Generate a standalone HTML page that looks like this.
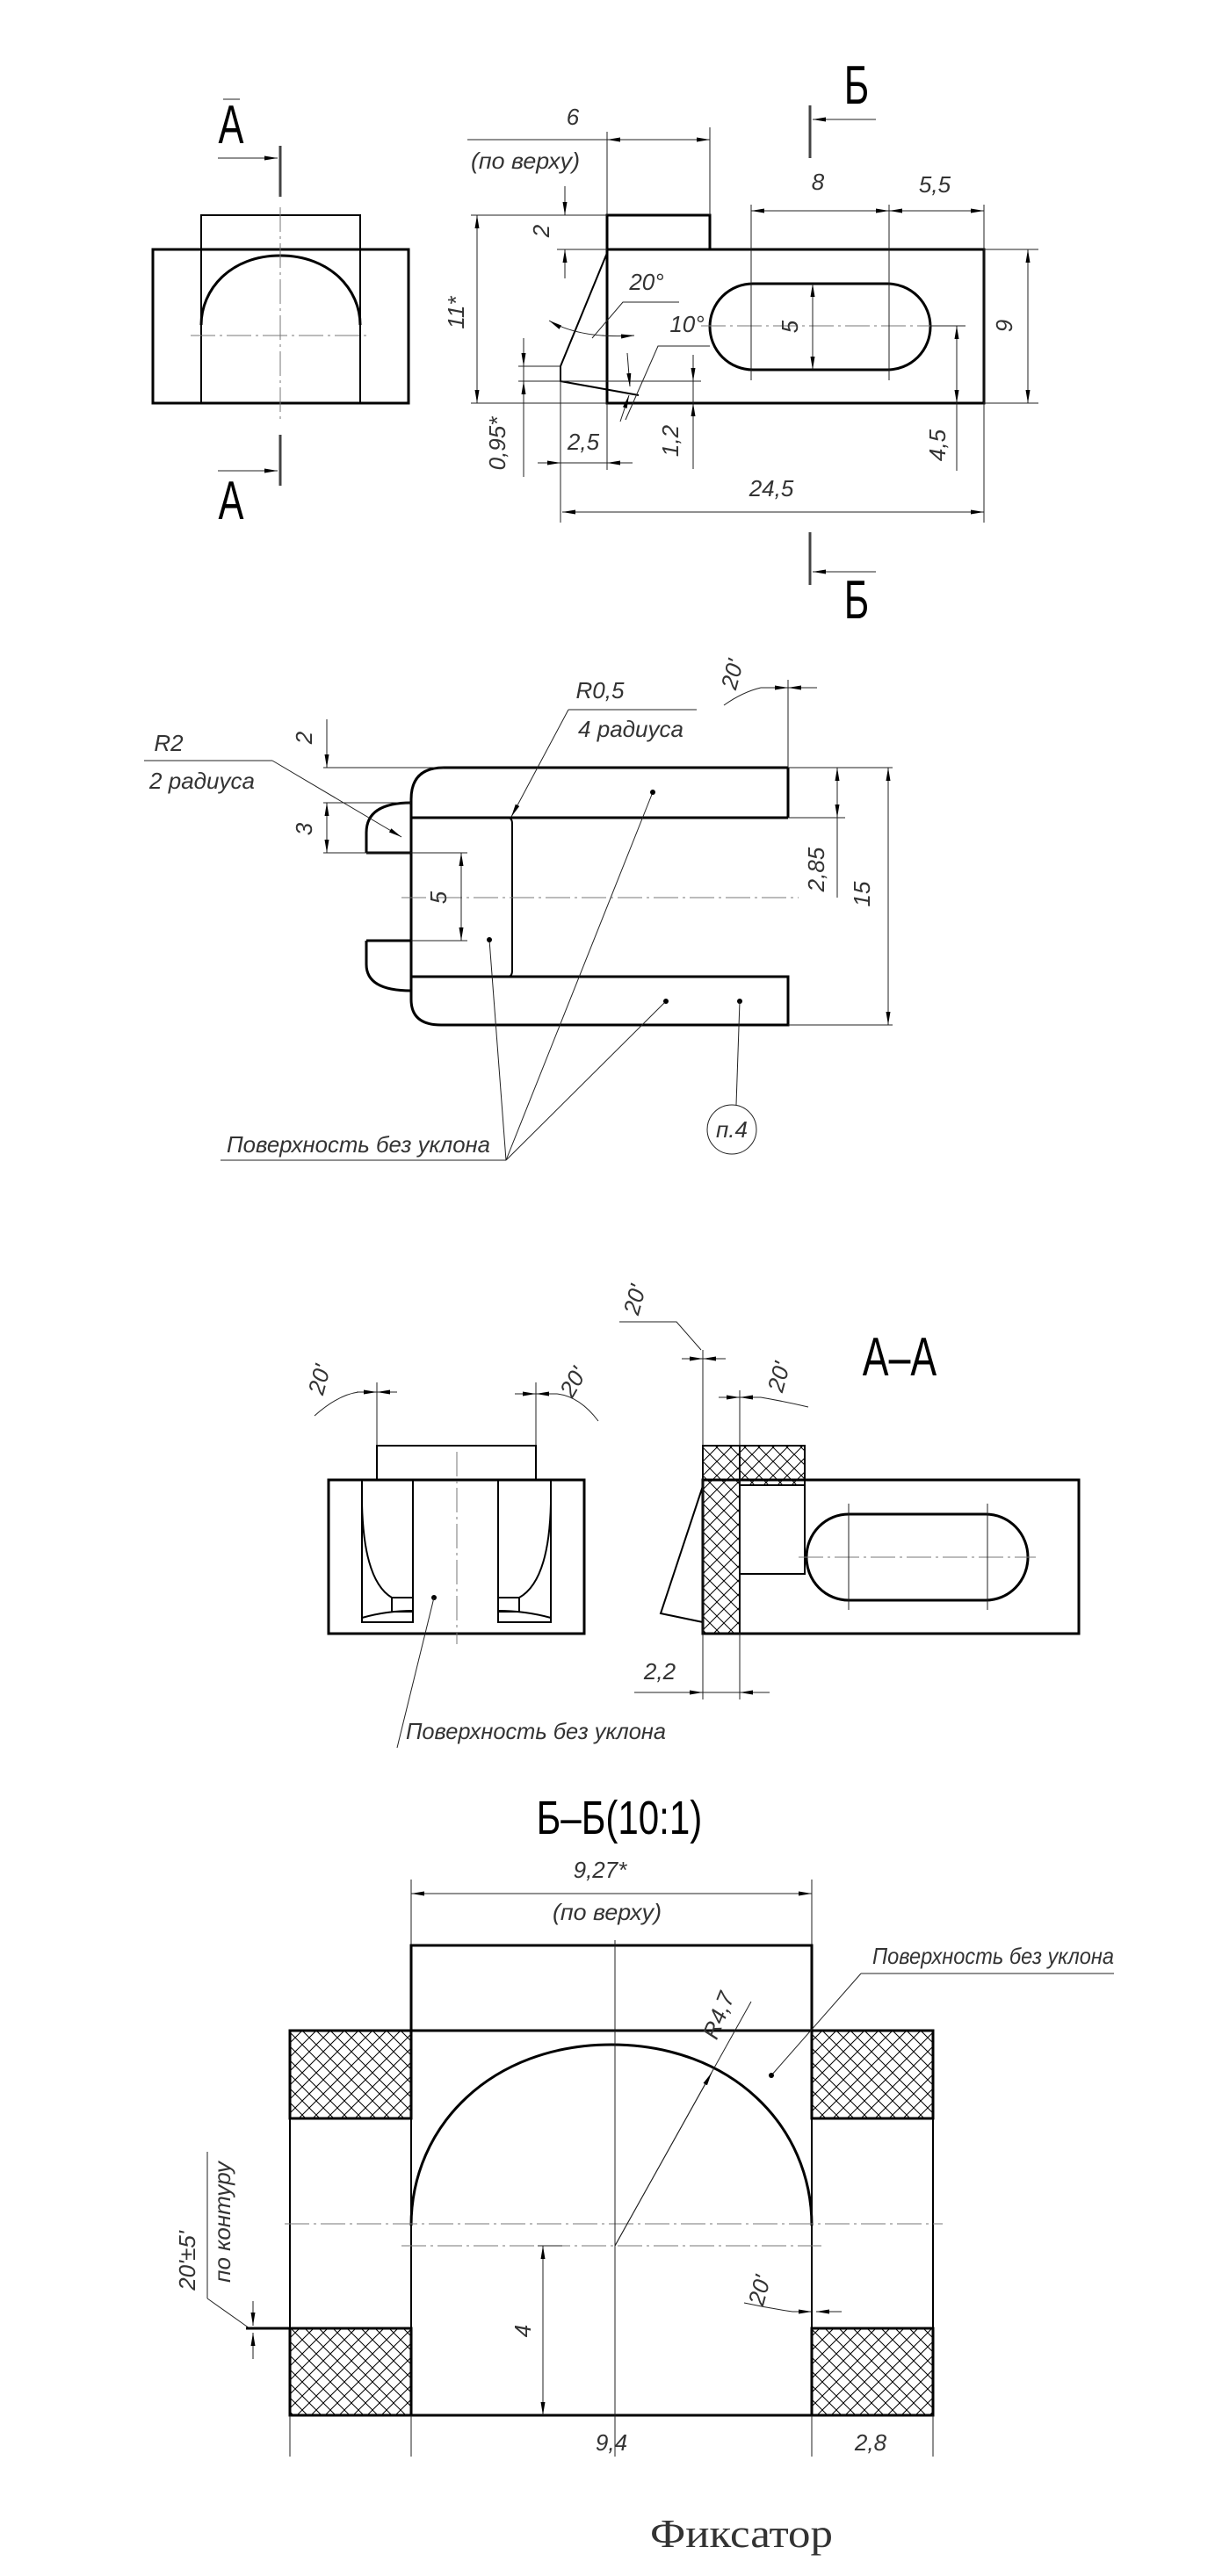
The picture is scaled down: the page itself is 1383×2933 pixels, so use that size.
<!DOCTYPE html>
<html><head><meta charset="utf-8">
<style>
html,body{margin:0;padding:0;background:#fff;}
svg{display:block;}
.k{stroke:#000;stroke-width:3;fill:none;}
.m{stroke:#000;stroke-width:2;fill:none;}
.t{stroke:#222;stroke-width:1;fill:none;}
.c{stroke:#777;stroke-width:1;fill:none;stroke-dasharray:28,5,3,5;}
.s{stroke:#444;stroke-width:3;fill:none;}
text{font-family:"Liberation Sans Narrow","Liberation Sans","DejaVu Sans",sans-serif;fill:#333;font-style:italic;}
.d{font-size:26px;}
.b{font-style:normal;fill:#000;}
</style></head><body>
<svg width="1383" height="2933" viewBox="0 0 1383 2933" xmlns="http://www.w3.org/2000/svg">
<defs>
<marker id="a" markerWidth="16" markerHeight="8" refX="15" refY="4" orient="auto-start-reverse" markerUnits="userSpaceOnUse"><path d="M0,1.5 L15,4 L0,6.5z" fill="#000"/></marker>
<pattern id="h" width="16" height="16" patternUnits="userSpaceOnUse"><path d="M0,0L16,16M16,0L0,16" stroke="#000" stroke-width="1"/></pattern>
</defs>

<!-- ===== VIEW 1 ===== -->
<rect class="k" x="174" y="284" width="291" height="175"/>
<polyline class="m" points="229,284 229,245 410,245 410,284"/>
<line class="m" x1="229" y1="284" x2="229" y2="459"/><line class="m" x1="410" y1="284" x2="410" y2="459"/>
<path class="k" d="M229,370 C229,330 262,291 319,291 C376,291 410,330 410,370"/>
<line class="c" x1="319" y1="236" x2="319" y2="481"/>
<line class="c" x1="217" y1="382" x2="421" y2="382"/>
<line class="s" x1="319" y1="166" x2="319" y2="224"/>
<line class="t" x1="248" y1="180" x2="316" y2="180" marker-end="url(#a)"/>
<line class="s" x1="319" y1="495" x2="319" y2="553"/>
<line class="t" x1="248" y1="536" x2="316" y2="536" marker-end="url(#a)"/>
<line class="t" x1="254" y1="113" x2="273" y2="113"/>
<text class="b" x="263" y="163" font-size="62" text-anchor="middle" transform="translate(263 0) scale(0.7 1) translate(-263 0)">А</text>
<text class="b" x="263" y="591" font-size="62" text-anchor="middle" transform="translate(263 0) scale(0.7 1) translate(-263 0)">А</text>

<!-- ===== VIEW 2 ===== -->
<rect class="k" x="691" y="284" width="429" height="175"/>
<polyline class="k" points="691,284 691,245 808,245 808,284"/>
<polyline class="m" points="691,288 638,417 638,434 727,450"/>
<rect class="k" x="808" y="323" width="251" height="98" rx="49" ry="49"/>
<line class="c" x1="798" y1="371" x2="1099" y2="371"/>
<line class="t" x1="855" y1="233" x2="855" y2="433"/>
<line class="t" x1="1012" y1="233" x2="1012" y2="433"/>
<line class="t" x1="1120" y1="233" x2="1120" y2="595"/>
<line class="t" x1="638" y1="434" x2="638" y2="595"/>
<line class="t" x1="691" y1="150" x2="691" y2="245"/>
<line class="t" x1="691" y1="459" x2="691" y2="535"/>
<line class="t" x1="808" y1="145" x2="808" y2="245"/>
<line class="t" x1="536" y1="245" x2="691" y2="245"/>
<line class="t" x1="634" y1="284" x2="691" y2="284"/>
<line class="t" x1="536" y1="459" x2="691" y2="459"/>
<line class="t" x1="590" y1="417" x2="638" y2="417"/>
<line class="t" x1="590" y1="434" x2="798" y2="434"/>
<!-- dims -->
<line class="t" x1="855" y1="240" x2="1012" y2="240" marker-start="url(#a)" marker-end="url(#a)"/>
<line class="t" x1="1012" y1="240" x2="1120" y2="240" marker-start="url(#a)" marker-end="url(#a)"/>
<text class="d" x="931" y="216" text-anchor="middle">8</text>
<text class="d" x="1064" y="219" text-anchor="middle">5,5</text>
<line class="t" x1="532" y1="159" x2="691" y2="159"/>
<line class="t" x1="691" y1="159" x2="808" y2="159" marker-start="url(#a)" marker-end="url(#a)"/>
<text class="d" x="652" y="142" text-anchor="middle">6</text>
<text class="d" x="598" y="192" text-anchor="middle" textLength="124" lengthAdjust="spacingAndGlyphs">(по верху)</text>
<line class="t" x1="643" y1="212" x2="643" y2="245" marker-end="url(#a)"/>
<line class="t" x1="643" y1="317" x2="643" y2="284" marker-end="url(#a)"/>
<text class="d" x="625" y="263" text-anchor="middle" transform="rotate(-90 625 263)">2</text>
<line class="t" x1="543" y1="245" x2="543" y2="459" marker-start="url(#a)" marker-end="url(#a)"/>
<text class="d" x="528" y="356" text-anchor="middle" transform="rotate(-90 528 356)">11*</text>
<line class="t" x1="1120" y1="284" x2="1182" y2="284"/><line class="t" x1="1120" y1="459" x2="1182" y2="459"/>
<line class="t" x1="1170" y1="284" x2="1170" y2="459" marker-start="url(#a)" marker-end="url(#a)"/>
<text class="d" x="1152" y="371" text-anchor="middle" transform="rotate(-90 1152 371)">9</text>
<line class="t" x1="925" y1="323" x2="925" y2="421" marker-start="url(#a)" marker-end="url(#a)"/>
<text class="d" x="908" y="372" text-anchor="middle" transform="rotate(-90 908 372)">5</text>
<line class="t" x1="1059" y1="371" x2="1099" y2="371"/>
<line class="t" x1="1089" y1="371" x2="1089" y2="536"/>
<line class="t" x1="1089" y1="415" x2="1089" y2="371" marker-end="url(#a)"/>
<line class="t" x1="1089" y1="415" x2="1089" y2="459" marker-end="url(#a)"/>
<text class="d" x="1076" y="507" text-anchor="middle" transform="rotate(-90 1076 507)">4,5</text>
<line class="t" x1="640" y1="583" x2="1120" y2="583" marker-start="url(#a)" marker-end="url(#a)"/>
<text class="d" x="878" y="565" text-anchor="middle">24,5</text>
<line class="t" x1="612" y1="527" x2="720" y2="527"/>
<line class="t" x1="612" y1="527" x2="638" y2="527" marker-end="url(#a)"/>
<line class="t" x1="720" y1="527" x2="691" y2="527" marker-end="url(#a)"/>
<text class="d" x="664" y="512" text-anchor="middle">2,5</text>
<line class="t" x1="596" y1="385" x2="596" y2="543"/>
<line class="t" x1="596" y1="385" x2="596" y2="417" marker-end="url(#a)"/>
<line class="t" x1="596" y1="467" x2="596" y2="434" marker-end="url(#a)"/>
<text class="d" x="575" y="505" text-anchor="middle" transform="rotate(-90 575 505)">0,95*</text>
<line class="t" x1="789" y1="404" x2="789" y2="534"/>
<line class="t" x1="789" y1="404" x2="789" y2="434" marker-end="url(#a)"/>
<line class="t" x1="789" y1="492" x2="789" y2="459" marker-end="url(#a)"/>
<text class="d" x="772" y="502" text-anchor="middle" transform="rotate(-90 772 502)">1,2</text>
<!-- angles -->
<polyline class="t" points="773,344 709,344 674,385"/>
<path class="t" d="M625,365 Q660,386 722,382" marker-start="url(#a)" marker-end="url(#a)"/>
<text class="d" x="736" y="330" text-anchor="middle">20°</text>
<polyline class="t" points="808,394 749,394 712,478"/>
<line class="t" x1="714" y1="402" x2="717" y2="440" marker-end="url(#a)"/>
<line class="t" x1="706" y1="480" x2="716" y2="450" marker-end="url(#a)"/>
<text class="d" x="782" y="378" text-anchor="middle">10°</text>
<!-- Б marks -->
<line class="s" x1="922" y1="120" x2="922" y2="180"/>
<line class="t" x1="997" y1="136" x2="925" y2="136" marker-end="url(#a)"/>
<line class="s" x1="922" y1="606" x2="922" y2="666"/>
<line class="t" x1="997" y1="651" x2="925" y2="651" marker-end="url(#a)"/>
<text class="b" x="975" y="118" font-size="62" text-anchor="middle" transform="translate(975 0) scale(0.7 1) translate(-975 0)">Б</text>
<text class="b" x="975" y="704" font-size="62" text-anchor="middle" transform="translate(975 0) scale(0.7 1) translate(-975 0)">Б</text>

<!-- ===== VIEW 3 ===== -->
<path class="k" d="M897,874 L505,874 Q468,874 468,910 L468,1138 Q468,1167 502,1167 L897,1167 L897,1112 L468,1112"/>
<line class="k" x1="897" y1="874" x2="897" y2="931"/>
<line class="k" x1="468" y1="931" x2="897" y2="931"/>
<line class="t" x1="897" y1="931" x2="962" y2="931"/>
<path class="m" d="M475,931 L578,931 Q583,931 583,938 L583,1105 Q583,1112 578,1112"/>
<path class="k" d="M417,971 L417,948 Q417,914 468,914"/>
<line class="k" x1="417" y1="971" x2="468" y2="971"/>
<line class="k" x1="417" y1="1071" x2="468" y2="1071"/>
<path class="k" d="M417,1071 L417,1098 Q417,1128 468,1128"/>
<line class="t" x1="368" y1="914" x2="468" y2="914"/>
<line class="t" x1="368" y1="971" x2="532" y2="971"/>
<line class="t" x1="468" y1="1071" x2="532" y2="1071"/>
<line class="t" x1="368" y1="874" x2="505" y2="874"/>
<line class="c" x1="457" y1="1022" x2="909" y2="1022"/>
<line class="t" x1="372" y1="819" x2="372" y2="874" marker-end="url(#a)"/>
<line class="t" x1="372" y1="942" x2="372" y2="914" marker-end="url(#a)"/>
<line class="t" x1="372" y1="942" x2="372" y2="971" marker-end="url(#a)"/>
<text class="d" x="355" y="840" text-anchor="middle" transform="rotate(-90 355 840)">2</text>
<text class="d" x="355" y="944" text-anchor="middle" transform="rotate(-90 355 944)">3</text>
<line class="t" x1="525" y1="971" x2="525" y2="1071" marker-start="url(#a)" marker-end="url(#a)"/>
<text class="d" x="508" y="1022" text-anchor="middle" transform="rotate(-90 508 1022)">5</text>
<line class="t" x1="953" y1="874" x2="953" y2="1022"/>
<line class="t" x1="953" y1="902" x2="953" y2="874" marker-end="url(#a)"/>
<line class="t" x1="953" y1="902" x2="953" y2="931" marker-end="url(#a)"/>
<text class="d" x="938" y="990" text-anchor="middle" transform="rotate(-90 938 990)">2,85</text>
<line class="t" x1="897" y1="874" x2="1016" y2="874"/><line class="t" x1="897" y1="1167" x2="1016" y2="1167"/>
<line class="t" x1="1011" y1="874" x2="1011" y2="1167" marker-start="url(#a)" marker-end="url(#a)"/>
<text class="d" x="990" y="1018" text-anchor="middle" transform="rotate(-90 990 1018)">15</text>
<line class="t" x1="897" y1="774" x2="897" y2="874"/>
<line class="t" x1="866" y1="783" x2="897" y2="783" marker-end="url(#a)"/>
<line class="t" x1="930" y1="783" x2="897" y2="783" marker-end="url(#a)"/>
<path class="t" d="M824,803 Q845,788 866,783"/>
<text class="d" x="842" y="770" text-anchor="middle" transform="rotate(-75 842 770)">20'</text>
<line class="t" x1="647" y1="808" x2="793" y2="808"/>
<text class="d" x="683" y="795" text-anchor="middle">R0,5</text>
<text class="d" x="718" y="839" text-anchor="middle">4 радиуса</text>
<line class="t" x1="647" y1="808" x2="582" y2="930" marker-end="url(#a)"/>
<line class="t" x1="164" y1="866" x2="310" y2="866"/>
<text class="d" x="192" y="855" text-anchor="middle">R2</text>
<text class="d" x="230" y="898" text-anchor="middle">2 радиуса</text>
<line class="t" x1="310" y1="866" x2="457" y2="953" marker-end="url(#a)"/>
<line class="t" x1="251" y1="1321" x2="576" y2="1321"/>
<text class="d" x="408" y="1312" text-anchor="middle" textLength="300" lengthAdjust="spacingAndGlyphs">Поверхность без уклона</text>
<line class="t" x1="576" y1="1321" x2="557" y2="1070"/>
<line class="t" x1="576" y1="1321" x2="743" y2="902"/>
<line class="t" x1="576" y1="1321" x2="758" y2="1140"/>
<circle cx="557" cy="1070" r="3"/><circle cx="743" cy="902" r="3"/><circle cx="758" cy="1140" r="3"/><circle cx="842" cy="1140" r="3"/>
<line class="t" x1="842" y1="1140" x2="838" y2="1258"/>
<circle class="t" cx="833" cy="1286" r="28"/>
<text class="d" x="833" y="1295" text-anchor="middle" font-size="22">п.4</text>

<!-- ===== VIEW 4 left ===== -->
<rect class="k" x="374" y="1685" width="291" height="175"/>
<rect class="m" x="429" y="1646" width="181" height="39"/>
<line class="c" x1="520" y1="1653" x2="520" y2="1872"/>
<rect class="m" x="412" y="1685" width="58" height="162"/>
<rect class="m" x="567" y="1685" width="60" height="162"/>
<path class="m" d="M412,1712 Q414,1800 446,1819 L446,1835 L470,1835 L470,1819 L446,1819"/>
<path class="m" d="M412,1842 Q440,1834 470,1834"/>
<path class="m" d="M627,1712 Q625,1800 591,1819 L591,1835 L567,1835 L567,1819 L591,1819"/>
<path class="m" d="M627,1842 Q598,1834 567,1834"/>
<line class="t" x1="429" y1="1574" x2="429" y2="1646"/>
<line class="t" x1="610" y1="1574" x2="610" y2="1646"/>
<path class="t" d="M358,1612 Q385,1588 408,1585"/>
<line class="t" x1="406" y1="1585" x2="429" y2="1585" marker-end="url(#a)"/>
<line class="t" x1="452" y1="1585" x2="429" y2="1585" marker-end="url(#a)"/>
<path class="t" d="M681,1618 Q660,1590 634,1587"/>
<line class="t" x1="586" y1="1587" x2="610" y2="1587" marker-end="url(#a)"/>
<line class="t" x1="634" y1="1587" x2="610" y2="1587" marker-end="url(#a)"/>
<text class="d" x="372" y="1573" text-anchor="middle" transform="rotate(-75 372 1573)">20'</text>
<text class="d" x="660" y="1578" text-anchor="middle" transform="rotate(-60 660 1578)">20'</text>
<circle cx="494" cy="1819" r="3"/>
<line class="t" x1="494" y1="1819" x2="452" y2="1990"/>
<text class="d" x="610" y="1980" text-anchor="middle" textLength="296" lengthAdjust="spacingAndGlyphs">Поверхность без уклона</text>

<!-- ===== A-A ===== -->
<rect class="k" x="800" y="1685" width="428" height="175"/>
<rect x="800" y="1646" width="42" height="214" fill="url(#h)" stroke="#000" stroke-width="2"/>
<rect x="842" y="1646" width="74" height="45" fill="url(#h)" stroke="#000" stroke-width="2"/>
<rect class="m" x="842" y="1691" width="74" height="101"/>
<rect class="k" x="918" y="1724" width="252" height="98" rx="48" ry="49"/>
<line class="c" x1="909" y1="1773" x2="1179" y2="1773"/>
<line class="t" x1="966" y1="1712" x2="966" y2="1833"/>
<line class="t" x1="1124" y1="1712" x2="1124" y2="1833"/>
<polyline class="m" points="800,1692 752,1837 800,1847"/>
<line class="t" x1="800" y1="1537" x2="800" y2="1935"/>
<line class="t" x1="842" y1="1583" x2="842" y2="1935"/>
<polyline class="t" points="705,1505 770,1505 798,1537"/>
<line class="t" x1="776" y1="1547" x2="800" y2="1547" marker-end="url(#a)"/>
<line class="t" x1="826" y1="1547" x2="800" y2="1547" marker-end="url(#a)"/>
<text class="d" x="731" y="1482" text-anchor="middle" transform="rotate(-75 731 1482)">20'</text>
<line class="t" x1="818" y1="1591" x2="842" y2="1591" marker-end="url(#a)"/>
<line class="t" x1="866" y1="1591" x2="842" y2="1591" marker-end="url(#a)"/>
<path class="t" d="M866,1591 Q895,1596 920,1602"/>
<text class="d" x="895" y="1570" text-anchor="middle" transform="rotate(-75 895 1570)">20'</text>
<text class="b" x="1024" y="1566" font-size="62" text-anchor="middle" transform="translate(1024 0) scale(0.72 1) translate(-1024 0)">А–А</text>
<line class="t" x1="722" y1="1927" x2="876" y2="1927"/>
<line class="t" x1="776" y1="1927" x2="800" y2="1927" marker-end="url(#a)"/>
<line class="t" x1="866" y1="1927" x2="842" y2="1927" marker-end="url(#a)"/>
<text class="d" x="751" y="1912" text-anchor="middle">2,2</text>

<!-- ===== Б-Б ===== -->
<text class="b" x="705" y="2088" font-size="54" text-anchor="middle" transform="translate(705 0) scale(0.78 1) translate(-705 0)">Б–Б(10:1)</text>
<line class="t" x1="468" y1="2140" x2="468" y2="2215"/>
<line class="t" x1="924" y1="2140" x2="924" y2="2215"/>
<line class="t" x1="468" y1="2156" x2="924" y2="2156" marker-start="url(#a)" marker-end="url(#a)"/>
<text class="d" x="683" y="2138" text-anchor="middle">9,27*</text>
<text class="d" x="691" y="2186" text-anchor="middle" textLength="124" lengthAdjust="spacingAndGlyphs">(по верху)</text>
<rect class="k" x="468" y="2215" width="456" height="97"/>
<rect x="330" y="2312" width="138" height="100" fill="url(#h)" stroke="#000" stroke-width="3"/>
<rect x="924" y="2312" width="138" height="100" fill="url(#h)" stroke="#000" stroke-width="3"/>
<rect x="330" y="2651" width="138" height="99" fill="url(#h)" stroke="#000" stroke-width="3"/>
<rect x="924" y="2651" width="138" height="99" fill="url(#h)" stroke="#000" stroke-width="3"/>
<line class="k" x1="468" y1="2312" x2="924" y2="2312"/>
<line class="k" x1="468" y1="2750" x2="924" y2="2750"/>
<line class="m" x1="330" y1="2412" x2="330" y2="2651"/>
<line class="m" x1="1062" y1="2412" x2="1062" y2="2651"/>
<line class="m" x1="468" y1="2312" x2="468" y2="2750"/>
<line class="m" x1="924" y1="2312" x2="924" y2="2750"/>
<path class="k" d="M468,2534 C468,2420 560,2328 696,2328 C832,2328 924,2420 924,2534"/>
<line class="c" x1="324" y1="2532" x2="1073" y2="2532"/>
<line class="c" x1="457" y1="2557" x2="935" y2="2557"/>
<line class="t" x1="700" y1="2209" x2="700" y2="2797"/>
<line class="t" x1="330" y1="2750" x2="330" y2="2797"/>
<line class="t" x1="468" y1="2750" x2="468" y2="2797"/>
<line class="t" x1="924" y1="2750" x2="924" y2="2797"/>
<line class="t" x1="1062" y1="2750" x2="1062" y2="2797"/>
<text class="d" x="696" y="2790" text-anchor="middle">9,4</text>
<text class="d" x="991" y="2790" text-anchor="middle">2,8</text>
<line class="t" x1="700" y1="2557" x2="855" y2="2279"/>
<line class="t" x1="700" y1="2557" x2="810" y2="2360" marker-end="url(#a)"/>
<text class="d" x="826" y="2298" text-anchor="middle" transform="rotate(-68 826 2298)">R4,7</text>
<line class="t" x1="612" y1="2557" x2="640" y2="2557"/>
<line class="t" x1="618" y1="2557" x2="618" y2="2750" marker-start="url(#a)" marker-end="url(#a)"/>
<text class="d" x="604" y="2654" text-anchor="middle" transform="rotate(-90 604 2654)">4</text>
<path class="t" d="M847,2622 Q875,2628 902,2632"/>
<line class="t" x1="902" y1="2632" x2="924" y2="2632" marker-end="url(#a)"/>
<line class="t" x1="958" y1="2632" x2="929" y2="2632" marker-end="url(#a)"/>
<text class="d" x="873" y="2610" text-anchor="middle" transform="rotate(-75 873 2610)">20'</text>
<line class="t" x1="236" y1="2450" x2="236" y2="2617"/>
<line class="t" x1="236" y1="2617" x2="284" y2="2651"/>
<line class="k" x1="280" y1="2651" x2="330" y2="2651"/>
<line class="t" x1="288" y1="2620" x2="288" y2="2648" marker-end="url(#a)"/>
<line class="t" x1="288" y1="2686" x2="288" y2="2656" marker-end="url(#a)"/>
<text class="d" x="222" y="2574" text-anchor="middle" transform="rotate(-90 222 2574)">20'±5'</text>
<text class="d" x="262" y="2530" text-anchor="middle" transform="rotate(-90 262 2530)">по контуру</text>
<line class="t" x1="980" y1="2247" x2="1268" y2="2247"/>
<text class="d" x="993" y="2236" textLength="275" lengthAdjust="spacingAndGlyphs">Поверхность без уклона</text>
<rect x="1268" y="2200" width="115" height="45" fill="#fff"/>
<line class="t" x1="980" y1="2247" x2="878" y2="2363"/>
<circle cx="878" cy="2363" r="3"/>

<text x="844" y="2900" font-size="46" text-anchor="middle" fill="#000" style="font-family:'Liberation Serif',serif;font-style:normal" textLength="208" lengthAdjust="spacingAndGlyphs">Фиксатор</text>
</svg>
</body></html>
